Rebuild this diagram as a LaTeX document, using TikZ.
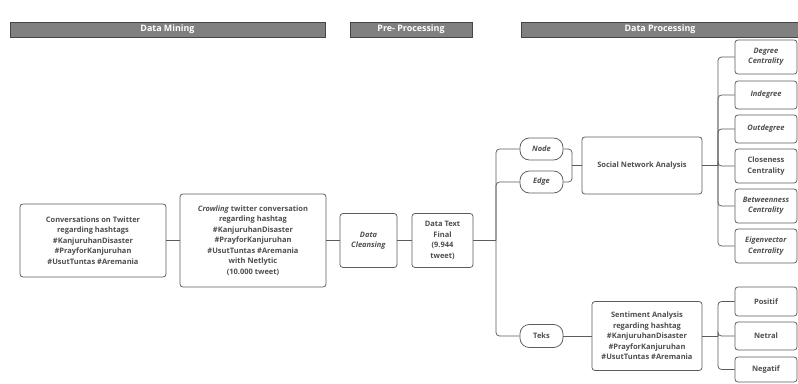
\documentclass[tikz,border=0pt]{standalone}
\usepackage{fontspec}
\setmainfont{Open Sans}
\usetikzlibrary{positioning}

\definecolor{linegray}{RGB}{92,92,92}
\definecolor{headfill}{RGB}{128,128,128}
\definecolor{headline}{RGB}{70,70,70}
\definecolor{textgray}{RGB}{78,78,78}

\tikzset{
  box/.style={draw=linegray, line width=0.65pt, rounded corners=2.5pt, fill=white,
    align=center, text=textgray, inner sep=0pt,
    font=\fontsize{6.4}{8.9}\selectfont\bfseries},
  oval/.style={box, rounded corners=8pt},
  head/.style={draw=headline, line width=0.7pt, fill=headfill, text=white,
    inner sep=0pt, font=\fontsize{7.6}{9}\selectfont\bfseries},
  wire/.style={draw=linegray, line width=0.65pt},
  elbow/.style={wire, rounded corners=3pt},
}

\begin{document}
\begin{tikzpicture}[x=0.03cm, y=-0.03cm]
\def\px{0.03cm}   % one pixel of the layout
\def\rx{766}      % centre x of the right column
\useasboundingbox (0,0) rectangle (798,383);
%% Phase headers
\node[head, minimum width=315*\px, minimum height=15*\px] (hmine) at (167.5,29.5) {Data Mining};
\node[head, minimum width=122*\px, minimum height=15*\px] (hpre) at (411,29.5) {Pre- Processing};
\node[head, minimum width=278*\px, minimum height=15*\px] (hproc) at (660,29.5) {Data Processing};
%% Data mining
\node[box, minimum width=146*\px, minimum height=73*\px] (conv) at (93,240.5)
  {Conversations on Twitter\\regarding hashtags\\\#KanjuruhanDisaster\\\#PrayforKanjuruhan\\\#UsutTuntas \#Aremania};
\node[box, minimum width=146*\px, minimum height=93*\px] (crawl) at (253,240.5)
  {\textit{Crowling} twitter conversation\\regarding hashtag\\\#KanjuruhanDisaster\\\#PrayforKanjuruhan\\\#UsutTuntas \#Aremania\\with Netlytic\\(10.000 tweet)};
%% Pre-processing
\node[box, minimum width=57*\px, minimum height=54*\px] (clean) at (368.5,240.5)
  {\textit{Data}\\\textit{Cleansing}};
\node[box, minimum width=61*\px, minimum height=54*\px] (final) at (442.5,240.5)
  {Data Text\\Final\\(9.944\\tweet)};
%% Data processing
\node[oval, minimum width=43*\px, minimum height=22*\px] (nodeov) at (541.5,149) {\textit{Node}};
\node[oval, minimum width=43*\px, minimum height=22*\px] (edgeov) at (541.5,182) {\textit{Edge}};
\node[oval, minimum width=43*\px, minimum height=23*\px] (teks) at (541.5,336) {Teks};
\node[box, minimum width=120*\px, minimum height=57*\px] (sna) at (642,165.5) {Social Network Analysis};
\node[box, minimum width=110*\px, minimum height=69*\px] (senti) at (647,336)
  {Sentiment Analysis\\regarding hashtag\\\#KanjuruhanDisaster\\\#PrayforKanjuruhan\\\#UsutTuntas \#Aremania};
%% Right column
\node[box, minimum width=62*\px, minimum height=34*\px] (deg) at (\rx,57) {\textit{Degree}\\\textit{Centrality}};
\node[box, minimum width=62*\px, minimum height=28*\px] (indeg) at (\rx,95) {\textit{Indegree}};
\node[box, minimum width=62*\px, minimum height=28*\px] (outdeg) at (\rx,129) {\textit{Outdegree}};
\node[box, minimum width=62*\px, minimum height=34*\px] (close) at (\rx,166) {Closeness\\Centrality};
\node[box, minimum width=62*\px, minimum height=34*\px] (betw) at (\rx,206) {\textit{Betweenness}\\\textit{Centrality}};
\node[box, minimum width=62*\px, minimum height=34*\px] (eigen) at (\rx,246) {\textit{Eigenvector}\\\textit{Centrality}};
\node[box, minimum width=62*\px, minimum height=29*\px] (pos) at (\rx,301.5) {Positif};
\node[box, minimum width=62*\px, minimum height=28*\px] (net) at (\rx,336) {Netral};
\node[box, minimum width=62*\px, minimum height=25*\px] (neg) at (\rx,369.5) {Negatif};
%% Junction points
\coordinate (jtext) at (496,240.5);
\coordinate (jsna) at (572,165.5);
\coordinate (jcent) at (718,165.5);
\coordinate (jsent) at (718,336);
%% Connectors
\draw[wire] (conv) -- (crawl);
\draw[wire] (crawl) -- (clean);
\draw[wire] (clean) -- (final);
\draw[wire] (final) -- (jtext);
\foreach \t in {nodeov,edgeov,teks}
  \draw[elbow] (jtext) |- (\t.west);
\draw[elbow] (nodeov.east) -| (jsna);
\draw[elbow] (edgeov.east) -| (jsna);
\draw[wire] (jsna) -- (sna);
\draw[wire] (teks) -- (senti);
\draw[wire] (sna) -- (jcent);
\foreach \t in {deg,indeg,outdeg,close,betw,eigen}
  \draw[elbow] (jcent) |- (\t.west);
\draw[wire] (senti) -- (jsent);
\foreach \t in {pos,net,neg}
  \draw[elbow] (jsent) |- (\t.west);
\end{tikzpicture}
\end{document}
